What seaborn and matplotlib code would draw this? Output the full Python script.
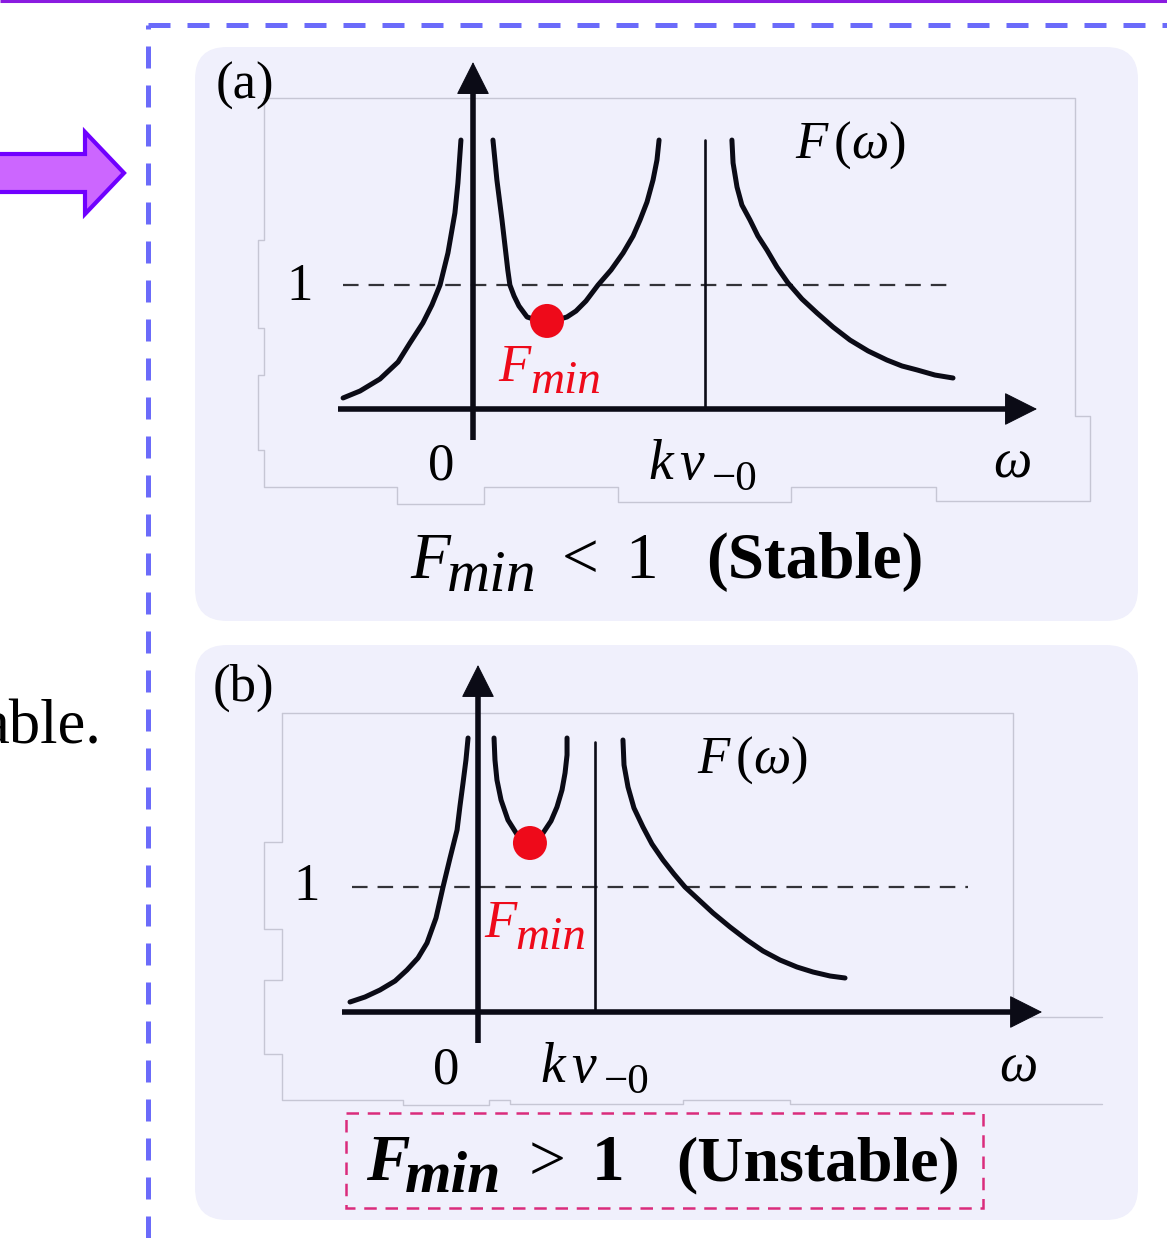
import matplotlib
matplotlib.use("Agg")
import matplotlib.pyplot as plt
import seaborn as sns
import numpy as np
from matplotlib.patches import FancyBboxPatch, Polygon, Rectangle

# ---------------- data (schematic units) ----------------
# Panel (a): omega in units of kv_{-0}; F with the dashed reference line at F = 1
a_left_w  = [-0.560, -0.487, -0.401, -0.323, -0.272, -0.216, -0.177, -0.142, -0.108, -0.078, -0.065, -0.052]
a_left_F  = [0.089, 0.145, 0.242, 0.379, 0.532, 0.694, 0.839, 1.000, 1.258, 1.581, 1.823, 2.169]
a_mid_w   = [0.086, 0.103, 0.125, 0.142, 0.150, 0.159, 0.177, 0.198, 0.233, 0.272, 0.319, 0.362,
             0.405, 0.444, 0.487, 0.539, 0.595, 0.647, 0.690, 0.720, 0.750, 0.776, 0.793, 0.802]
a_mid_F   = [2.169, 1.847, 1.524, 1.250, 1.120, 1.000, 0.911, 0.831, 0.742, 0.718, 0.710, 0.718,
             0.742, 0.790, 0.871, 1.000, 1.121, 1.258, 1.395, 1.524, 1.669, 1.847, 2.008, 2.169]
a_right_w = [1.116, 1.121, 1.138, 1.159, 1.194, 1.228, 1.267, 1.310, 1.358, 1.418, 1.483, 1.552,
             1.625, 1.703, 1.784, 1.849, 1.914, 1.991, 2.069]
a_right_F = [2.169, 1.984, 1.790, 1.645, 1.524, 1.395, 1.282, 1.145, 1.016, 0.887, 0.774, 0.661,
             0.556, 0.468, 0.395, 0.347, 0.315, 0.274, 0.250]
a_kv0, a_kv0_top = 1.0, 2.169
a_fmin = (0.319, 0.710)
a_dash = (-0.560, 2.078)
a_xaxis = (-0.582, 2.431)
a_yaxis = (-0.250, 2.798)

# Panel (b)
b_left_w  = [-1.094, -0.966, -0.838, -0.709, -0.607, -0.513, -0.436, -0.359, -0.299, -0.239,
             -0.179, -0.154, -0.128, -0.103, -0.085]
b_left_F  = [0.080, 0.120, 0.176, 0.248, 0.336, 0.432, 0.552, 0.752, 1.000, 1.232,
             1.456, 1.648, 1.832, 2.016, 2.192]
b_mid_w   = [0.137, 0.145, 0.162, 0.197, 0.256, 0.342, 0.444, 0.556, 0.624, 0.675, 0.718, 0.744, 0.761, 0.761]
b_mid_F   = [2.192, 2.016, 1.856, 1.696, 1.536, 1.408, 1.352, 1.432, 1.528, 1.640, 1.776, 1.912, 2.056, 2.192]
b_right_w = [1.239, 1.248, 1.282, 1.333, 1.410, 1.487, 1.581, 1.675, 1.769, 1.889, 2.009, 2.154,
             2.299, 2.436, 2.581, 2.726, 2.863, 3.009, 3.137]
b_right_F = [2.176, 1.976, 1.800, 1.632, 1.480, 1.344, 1.216, 1.104, 1.000, 0.896, 0.792, 0.680,
             0.576, 0.488, 0.416, 0.360, 0.320, 0.288, 0.272]
b_kv0, b_kv0_top = 1.0, 2.160
b_fmin = (0.444, 1.352)
b_dash = (-1.077, 4.188)
b_xaxis = (-1.162, 4.821)
b_yaxis = (-0.248, 2.776)

# ---------------- style ----------------
sns.set_theme(style="white")
plt.rcParams['font.family'] = ['Liberation Serif', 'DejaVu Serif']
plt.rcParams['text.color'] = 'black'
plt.rcParams['mathtext.fontset'] = 'custom'
plt.rcParams['mathtext.rm'] = 'Liberation Serif'
plt.rcParams['mathtext.it'] = 'Liberation Serif:italic'
plt.rcParams['mathtext.bf'] = 'Liberation Serif:bold'

W, H = 1167, 1238
fig = plt.figure(figsize=(W / 100, H / 100), dpi=100)
fig.patch.set_facecolor('white')
bg = fig.add_axes([0, 0, 1, 1])
bg.set_xlim(0, W)
bg.set_ylim(H, 0)
bg.axis('off')

PANEL = '#F0F0FC'
INK = '#0B0B16'
RED = '#EE0A1A'

# top purple rule
bg.plot([0, W], [1, 1], color='#8A1BE0', lw=2.2, solid_capstyle='butt')

# big purple arrow (left)
arrow = Polygon([(-5, 154), (85, 154), (85, 132), (124, 173), (85, 214), (85, 192), (-5, 192)],
                closed=True, facecolor='#CC66FF', edgecolor='#7000FF', lw=3, joinstyle='miter')
bg.add_patch(arrow)

# "able." fragment (cut at the left edge, as in the source)
bg.text(102, 743, 'able.', fontsize=45, ha='right', va='baseline', color='black',
        family='Liberation Serif')

# blue dashed frame
bg.plot([148, 148], [1238, 25], color='#6B6BFA', lw=3.6, dashes=(4.4, 3.4), solid_capstyle='butt')
bg.plot([148, 1167], [25, 25], color='#6B6BFA', lw=3.6, dashes=(4.4, 3.4), solid_capstyle='butt')

# rounded panels
for (x0, y0, x1, y1) in [(195, 47, 1138, 621), (195, 645, 1138, 1220)]:
    bg.add_patch(FancyBboxPatch((x0, y0), x1 - x0, y1 - y0,
                                boxstyle='round,pad=0,rounding_size=32',
                                facecolor=PANEL, edgecolor='none'))

# faint pasted-image outlines
out_a = [(263, 98), (1075, 98), (1075, 416), (1090, 416), (1090, 501), (936, 501), (936, 487),
         (791, 487), (791, 502), (618, 502), (618, 487), (484, 487), (484, 504), (397, 504),
         (397, 487), (264, 487), (264, 450), (258, 450), (258, 375), (264, 375), (264, 328),
         (258, 328), (258, 240), (264, 240), (264, 98)]
out_b = [(282, 713), (1013, 713), (1013, 1012)]
out_b2 = [(1013, 1017), (1102, 1017)]
out_b3 = [(282, 713), (282, 842), (264, 842), (264, 929), (282, 929), (282, 980), (264, 980),
          (264, 1054), (282, 1054), (282, 1100), (403, 1100), (403, 1105), (489, 1105),
          (489, 1100), (510, 1100), (510, 1104), (683, 1104), (683, 1100), (790, 1100),
          (790, 1104), (1102, 1104)]
for pts in (out_a, out_b, out_b2, out_b3):
    xs, ys = zip(*pts)
    bg.plot(xs, ys, color='#C6C6D4', lw=1.0, zorder=1)

# magenta dashed box around the unstable title
bg.add_patch(Rectangle((346, 1113), 637, 95, facecolor='none', edgecolor='#DA2C7C',
                       lw=1.8, ls=(0, (5, 3.5))))


def px_axes(x0, y0, x1, y1, xlim, ylim):
    ax = fig.add_axes([x0 / W, 1 - y1 / H, (x1 - x0) / W, (y1 - y0) / H])
    ax.set_xlim(*xlim)
    ax.set_ylim(*ylim)
    ax.axis('off')
    ax.patch.set_alpha(0)
    return ax


def draw_panel(ax, left, mid, right, kv0, kv0_top, fmin, dash, xaxis, yaxis, pxu):
    ux, uy = pxu  # pixels per data unit (layout only)
    back = 14     # axis lines stop under the arrow heads
    ax.plot([xaxis[0], xaxis[1] - back / ux], [0, 0], color=INK, lw=4.0,
            solid_capstyle='butt', zorder=4)
    ax.plot([0, 0], [yaxis[0], yaxis[1] - back / uy], color=INK, lw=4.0,
            solid_capstyle='butt', zorder=4)
    for (xy, xytext) in [((xaxis[1], 0), (xaxis[1] - 30 / ux, 0)),
                         ((0, yaxis[1]), (0, yaxis[1] - 30 / uy))]:
        ax.annotate('', xy=xy, xytext=xytext, zorder=4,
                    arrowprops=dict(arrowstyle='-|>,head_length=1.55,head_width=0.78',
                                    lw=0.8, color=INK, shrinkA=0, shrinkB=0,
                                    mutation_scale=14))
    ax.plot(list(dash), [1, 1], color='#333338', lw=1.6, dashes=(7, 4.5), zorder=2)
    ax.plot([kv0, kv0], [0, kv0_top], color=INK, lw=1.9, zorder=2)
    for w, f in (left, mid, right):
        sns.lineplot(x=w, y=f, ax=ax, sort=False, estimator=None, color=INK, lw=3.6,
                     zorder=3, legend=False, solid_joinstyle='round', solid_capstyle='round')
    sns.scatterplot(x=[fmin[0]], y=[fmin[1]], ax=ax, s=34 ** 2 / 1.93, color=RED,
                    edgecolor='none', zorder=5, legend=False)
    ax.set_xlabel('')
    ax.set_ylabel('')


ax_a = px_axes(195, 47, 1138, 621, ((195 - 473) / 232, (1138 - 473) / 232),
               ((409 - 621) / 124, (409 - 47) / 124))
draw_panel(ax_a, (a_left_w, a_left_F), (a_mid_w, a_mid_F), (a_right_w, a_right_F),
           a_kv0, a_kv0_top, a_fmin, a_dash, a_xaxis, a_yaxis, (232, 124))

ax_b = px_axes(195, 645, 1138, 1220, ((195 - 478) / 117, (1138 - 478) / 117),
               ((1012 - 1220) / 125, (1012 - 645) / 125))
draw_panel(ax_b, (b_left_w, b_left_F), (b_mid_w, b_mid_F), (b_right_w, b_right_F),
           b_kv0, b_kv0_top, b_fmin, b_dash, b_xaxis, b_yaxis, (117, 125))

# ---------------- texts ----------------
SER = 'Liberation Serif'


def tx(x, y, s, size, ha='left', va='baseline', **kw):
    kw.setdefault('color', 'black')
    bg.text(x, y, s, fontsize=size, ha=ha, va=va, family=SER, zorder=10, **kw)


def sub_label(x, y, main, sub, size_m, size_s, dx, dy, **kw):
    tx(x, y, main, size_m, **kw)
    tx(x + dx, y + dy, sub, size_s, **kw)


for (lab, lx, ly, one, zero, kv, om, fw, fm, fmx) in [
        ('(a)', 245, 86, (300, 300), (441, 480), (648, 479), (1012, 478), (850, 145), (498, 381), 32),
        ('(b)', 243, 688, (307, 900), (446, 1083), (540, 1082), (1018, 1081), (752, 760), (484, 937), 31)]:
    bg.text(lx, ly, lab, fontsize=38, ha='center', va='center', family=SER, zorder=10)
    tx(one[0], one[1], '1', 38, ha='center')
    tx(zero[0], zero[1], '0', 38, ha='center')
    tx(kv[0], kv[1], 'k', 40, style='italic')
    tx(kv[0] + 31, kv[1], 'v', 40, style='italic')
    tx(kv[0] + 64, kv[1] + 11, '\u22120', 31)
    tx(om[0], om[1], '\u03c9', 39, ha='center', style='italic')
    bg.text(fw[0], fw[1], r'$F\,(\omega)$', fontsize=38, ha='center', va='center', zorder=10)
    sub_label(fm[0], fm[1], 'F', 'min', 38, 34, fmx, 12, style='italic', color=RED)

# titles
sub_label(410, 578, 'F', 'min', 47, 43, 37, 13, style='italic')
tx(580, 578, '<', 47, ha='center')
tx(642, 578, '1', 47, ha='center')
tx(706, 578, '(Stable)', 47, weight='bold')

sub_label(366, 1180, 'F', 'min', 47, 43, 39, 12, style='italic', weight='bold')
tx(547, 1180, '>', 47, ha='center')
tx(608, 1180, '1', 47, ha='center', weight='bold')
tx(676, 1180, '(Unstable)', 46, weight='bold')

fig.savefig('out.png', dpi=100, facecolor='white')
